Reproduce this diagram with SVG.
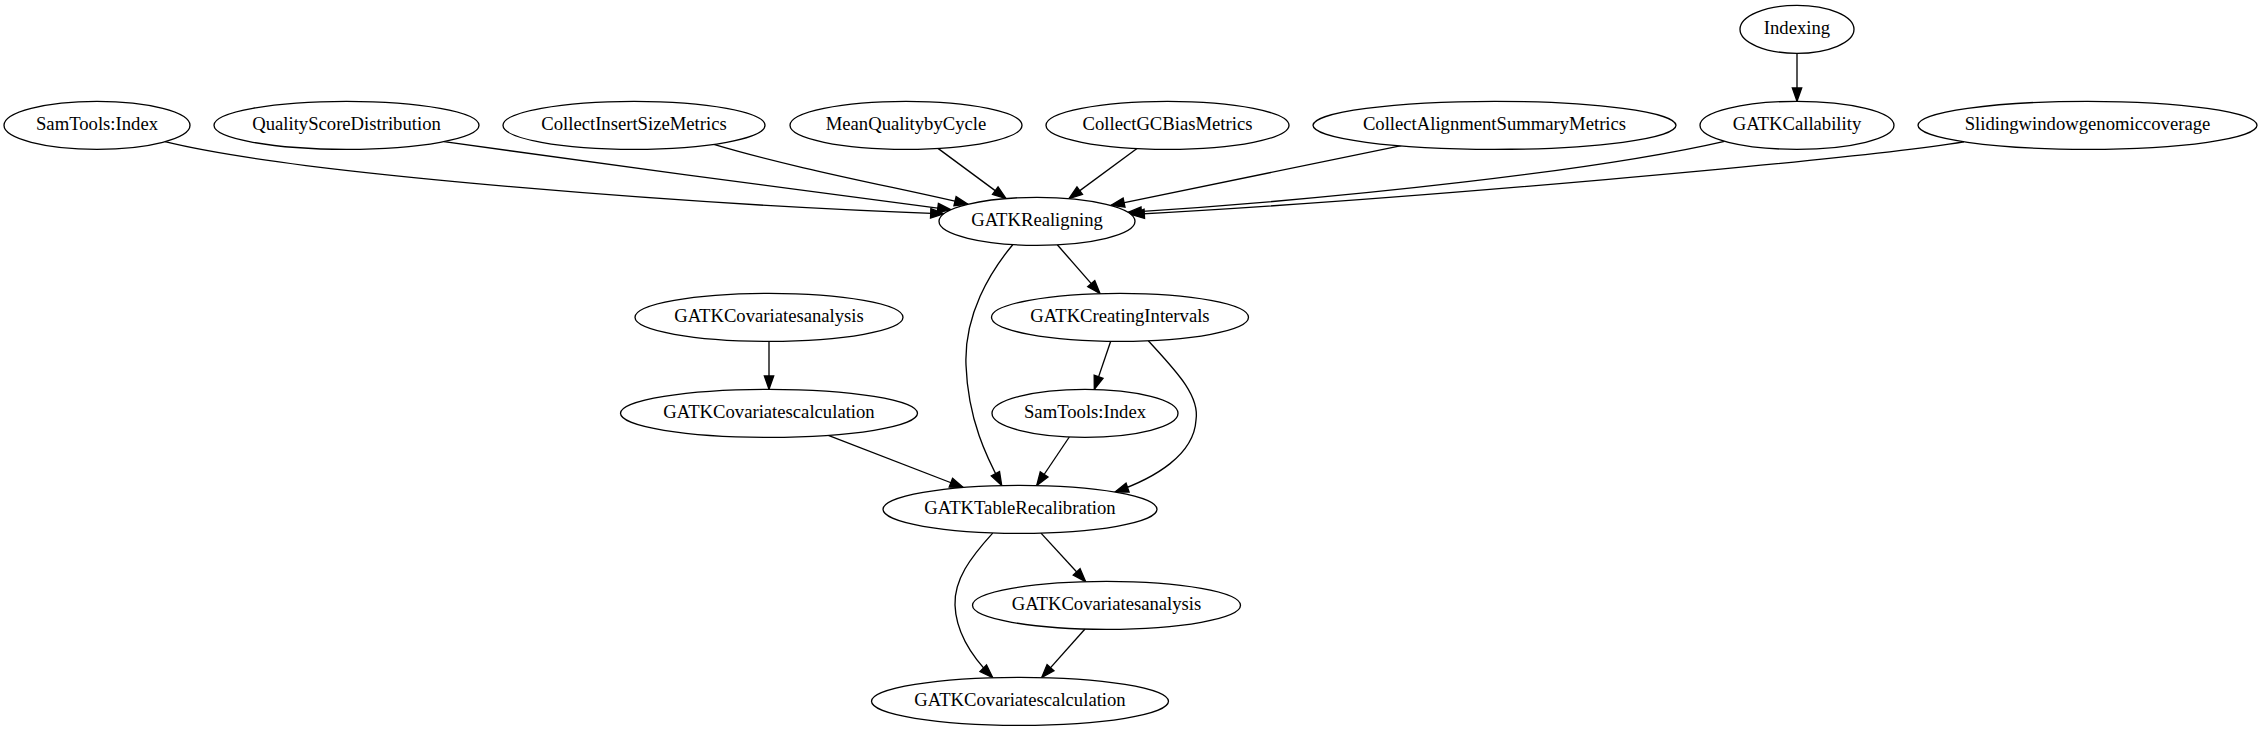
<svg xmlns="http://www.w3.org/2000/svg" width="2261" height="731" viewBox="0 0 2261 731">
<style>
.node ellipse{fill:#fff;stroke:#000;stroke-width:1.33}
.node text{font-family:"Liberation Serif","Times New Roman",serif;font-size:18.67px;text-anchor:middle;fill:#000}
.edges path{fill:none;stroke:#000;stroke-width:1.33;marker-end:url(#ah)}
</style>
<defs>
<marker id="ah" markerUnits="userSpaceOnUse" markerWidth="20" markerHeight="14" refX="13.33" refY="4.67" orient="auto" overflow="visible">
<path d="M0,0 L13.33,4.67 L0,9.33 Z" fill="#000" stroke="#000" stroke-width="1.33"/>
</marker>
</defs>
<rect width="2261" height="731" fill="#fff"/>
<g id="connectors" class="edges">
<path d="M165,141.7 C300,175 700,205 944,213.8"/>
<path d="M444,141.7 C600,164 800,190 951,209.8"/>
<path d="M713.8,144.4 C800,170 900,188 968,204.3"/>
<path d="M938,148.4 L1006,198.6"/>
<path d="M1137,148.5 L1069,198.6"/>
<path d="M1401.4,145.7 L1111,205.3"/>
<path d="M1724.5,141.3 C1600,170 1350,198 1128,212.4"/>
<path d="M1964,141.8 C1850,160 1400,200 1131,214.5"/>
<path d="M1797,53.33 L1797,101.33"/>
<path d="M1057.3,244.8 L1100,293.6"/>
<path d="M1012.7,244.7 C990,272 964,315 966,365 C968,420 987,458 1001.7,485.5"/>
<path d="M1110.7,341.2 L1094.3,389.4"/>
<path d="M1148.3,340.7 C1175,370 1200,395 1196,420 C1194,455 1155,478 1115,492"/>
<path d="M769,341.33 L769,389.33"/>
<path d="M828.3,435.3 L963.3,487.5"/>
<path d="M1069.3,437 L1036.7,485.5"/>
<path d="M1041,533.1 L1085.7,581.7"/>
<path d="M992.7,533.1 C970,558 954,580 955,605 C956,635 975,660 992.7,677.7"/>
<path d="M1085,629.0 L1041.7,677.6"/>
</g>
<g id="n_indexing" class="node"><ellipse cx="1797" cy="29.33" rx="57" ry="24"/><text x="1797" y="34.33">Indexing</text></g>
<g id="n_samtools1" class="node"><ellipse cx="97" cy="125.33" rx="93" ry="24"/><text x="97" y="130.33">SamTools:Index</text></g>
<g id="n_qsd" class="node"><ellipse cx="346.5" cy="125.33" rx="132.5" ry="24"/><text x="346.5" y="130.33">QualityScoreDistribution</text></g>
<g id="n_cism" class="node"><ellipse cx="634" cy="125.33" rx="131" ry="24"/><text x="634" y="130.33">CollectInsertSizeMetrics</text></g>
<g id="n_mqbc" class="node"><ellipse cx="906" cy="125.33" rx="116" ry="24"/><text x="906" y="130.33">MeanQualitybyCycle</text></g>
<g id="n_cgcbm" class="node"><ellipse cx="1167.5" cy="125.33" rx="121.5" ry="24"/><text x="1167.5" y="130.33">CollectGCBiasMetrics</text></g>
<g id="n_casm" class="node"><ellipse cx="1494.5" cy="125.33" rx="181.5" ry="24"/><text x="1494.5" y="130.33">CollectAlignmentSummaryMetrics</text></g>
<g id="n_callab" class="node"><ellipse cx="1797" cy="125.33" rx="97" ry="24"/><text x="1797" y="130.33">GATKCallability</text></g>
<g id="n_sliding" class="node"><ellipse cx="2087.5" cy="125.33" rx="169.5" ry="24"/><text x="2087.5" y="130.33">Slidingwindowgenomiccoverage</text></g>
<g id="n_realign" class="node"><ellipse cx="1037" cy="221.33" rx="98" ry="24"/><text x="1037" y="226.33">GATKRealigning</text></g>
<g id="n_covan1" class="node"><ellipse cx="769" cy="317.33" rx="134" ry="24"/><text x="769" y="322.33">GATKCovariatesanalysis</text></g>
<g id="n_creat" class="node"><ellipse cx="1120" cy="317.33" rx="128.5" ry="24"/><text x="1120" y="322.33">GATKCreatingIntervals</text></g>
<g id="n_covcalc1" class="node"><ellipse cx="769" cy="413.33" rx="148.5" ry="24"/><text x="769" y="418.33">GATKCovariatescalculation</text></g>
<g id="n_samtools2" class="node"><ellipse cx="1085" cy="413.33" rx="93" ry="24"/><text x="1085" y="418.33">SamTools:Index</text></g>
<g id="n_table" class="node"><ellipse cx="1020" cy="509.33" rx="137" ry="24"/><text x="1020" y="514.33">GATKTableRecalibration</text></g>
<g id="n_covan2" class="node"><ellipse cx="1106.5" cy="605.33" rx="134" ry="24"/><text x="1106.5" y="610.33">GATKCovariatesanalysis</text></g>
<g id="n_covcalc2" class="node"><ellipse cx="1020" cy="701.33" rx="148.5" ry="24"/><text x="1020" y="706.33">GATKCovariatescalculation</text></g>
</svg>
